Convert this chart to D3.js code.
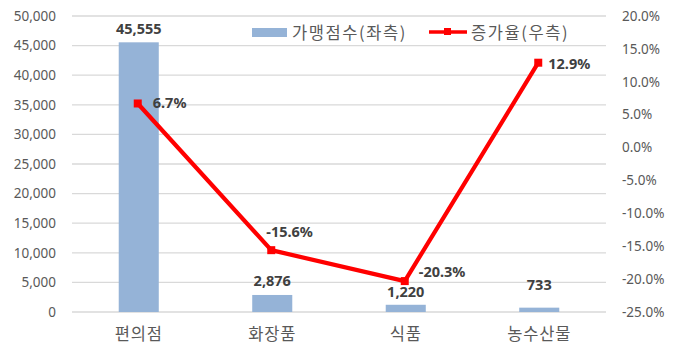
<!DOCTYPE html>
<html><head><meta charset="utf-8">
<script src="https://cdn.jsdelivr.net/npm/d3@7"></script>
<style>body{margin:0;background:#fff}svg{display:block;font-family:"Noto Sans CJK KR","Noto Sans",sans-serif}</style>
</head><body><svg id="c" width="680" height="356"></svg>
<script>
const categories = ["편의점","화장품","식품","농수산물"];
const storeCounts = [45555, 2876, 1220, 733];
const growthRates = [6.7, -15.6, -20.3, 12.9];
const leftTicks = [0,5000,10000,15000,20000,25000,30000,35000,40000,45000,50000];
const rightTicks = [20,15,10,5,0,-5,-10,-15,-20,-25];
const legendLabels = ["가맹점수(좌측)","증가율(우측)"];

const svg = d3.select("#c");
const L = 72, R = 606, T = 16, B = 312;
const x = d3.scaleBand().domain(categories).range([L,R]).paddingInner(0.7).paddingOuter(0.35);
const yL = d3.scaleLinear().domain([0,50000]).range([B,T]);
const yR = d3.scaleLinear().domain([-25,20]).range([B,T]);
const cx = c => x(c) + x.bandwidth()/2;
const grey = "#595959";

// gridlines
svg.append("g").selectAll("line").data(leftTicks).join("line")
  .attr("x1",L).attr("x2",R).attr("y1",d=>yL(d)).attr("y2",d=>yL(d))
  .attr("stroke","#d9d9d9").attr("stroke-width",1.3);

// left axis
const axL = d3.axisLeft(yL).tickValues(leftTicks).tickFormat(d3.format(",")).tickSize(0).tickPadding(16);
svg.append("g").attr("transform",`translate(${L},0)`).call(axL)
  .call(g=>g.select(".domain").remove())
  .selectAll("text").attr("fill",grey).style("font-size","13.5px").style("font-family","'Noto Sans','Noto Sans CJK KR',sans-serif");

// right axis
const axR = d3.axisRight(yR).tickValues(rightTicks).tickFormat(d=>d.toFixed(1)+"%").tickSize(0).tickPadding(16);
svg.append("g").attr("transform",`translate(${R},0)`).call(axR)
  .call(g=>g.select(".domain").remove())
  .selectAll("text").attr("fill",grey).style("font-size","13.5px").style("font-family","'Noto Sans','Noto Sans CJK KR',sans-serif");

// category labels
svg.append("g").selectAll("text").data(categories).join("text")
  .attr("x",d=>cx(d)).attr("y",B+28).attr("text-anchor","middle")
  .attr("fill",grey).style("font-size","16.5px").style("letter-spacing","0.8px").text(d=>d);

// bars
const barColor = "#95b3d7";
svg.append("g").selectAll("rect").data(storeCounts).join("rect")
  .attr("x",(d,i)=>x(categories[i])).attr("width",x.bandwidth())
  .attr("y",d=>yL(d)).attr("height",d=>B-yL(d)).attr("fill",barColor);

// bar labels
const barLabelGap = [8,9,8,18];
svg.append("g").selectAll("text").data(storeCounts).join("text")
  .attr("x",(d,i)=>cx(categories[i])).attr("y",(d,i)=>yL(d)-barLabelGap[i])
  .attr("text-anchor","middle").attr("fill","#404040").style("font-weight","bold")
  .style("font-size","14.5px").style("font-family","'Noto Sans',sans-serif").text(d3.format(","));

// line
const pts = growthRates.map((v,i)=>[cx(categories[i])-1, yR(v)]);
svg.append("path").attr("d",d3.line()(pts)).attr("fill","none")
  .attr("stroke","#ff0000").attr("stroke-width",4.2).attr("stroke-linejoin","round");
svg.append("g").selectAll("rect").data(pts).join("rect")
  .attr("x",d=>d[0]-4).attr("y",d=>d[1]-4).attr("width",8).attr("height",8).attr("fill","#ff0000");

// line labels
const lineLabelOff = [[15,5],[-5,-13],[14,-4],[10,6]];
svg.append("g").selectAll("text").data(growthRates).join("text")
  .attr("x",(d,i)=>pts[i][0]+lineLabelOff[i][0]).attr("y",(d,i)=>pts[i][1]+lineLabelOff[i][1])
  .attr("fill","#404040").style("font-weight","bold").style("font-size","14.5px")
  .style("font-family","'Noto Sans',sans-serif").text(d=>d.toFixed(1)+"%");

// legend
const lg = svg.append("g");
lg.append("rect").attr("x",252).attr("y",28).attr("width",35).attr("height",9).attr("fill",barColor);
lg.append("text").attr("x",292).attr("y",39).attr("fill",grey).style("font-size","16.5px").style("letter-spacing","1.6px").text(legendLabels[0]);
lg.append("line").attr("x1",429).attr("x2",467).attr("y1",32).attr("y2",32).attr("stroke","#ff0000").attr("stroke-width",3.5);
lg.append("rect").attr("x",444).attr("y",28).attr("width",7).attr("height",7).attr("fill","#ff0000");
lg.append("text").attr("x",471).attr("y",39).attr("fill",grey).style("font-size","16.5px").style("letter-spacing","1.6px").text(legendLabels[1]);
</script></body></html>
